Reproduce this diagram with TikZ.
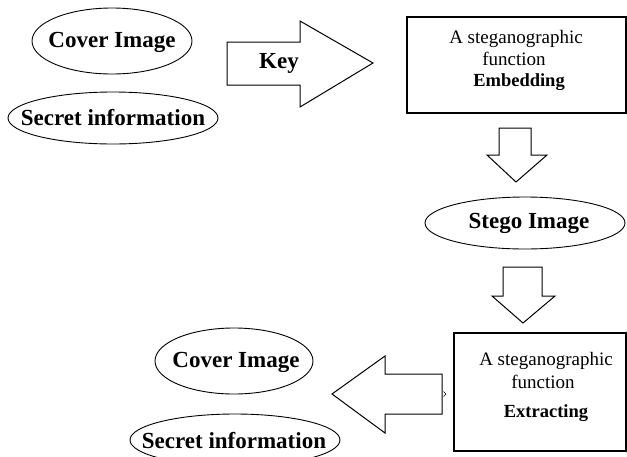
\documentclass[tikz,border=0pt]{standalone}
\usepackage{fontspec}
\setmainfont{Liberation Serif}
\begin{document}
\begin{tikzpicture}[x=1pt,y=-1pt,
  label/.style={inner sep=0pt, font=\fontsize{23}{23}\selectfont\bfseries},
  ring/.style={draw, line width=0.9pt},
  stepbox/.style={draw, line width=1.2pt, rectangle, inner sep=0pt},
  fatarrow/.style={draw, line width=1pt, line join=miter, fill=white},
  plain/.style={inner sep=0pt, anchor=base, font=\fontsize{19}{19}\selectfont},
  strong/.style={inner sep=0pt, anchor=base, font=\fontsize{18.5}{18.5}\selectfont\bfseries}]
\useasboundingbox (0,0) rectangle (627,456);

% inputs
\node[label] (cover1) at (112,42) {Cover Image};
\draw[ring] (112,41) ellipse [x radius=80pt, y radius=33pt];
\node[label] (secret1) at (113,118) {Secret information};
\draw[ring] (113,118) ellipse [x radius=105pt, y radius=26pt];

% key arrow
\draw[fatarrow] (227,42) -- (300,42) -- (300,21) -- (373,63) -- (300,107)
  -- (300,85) -- (227,85) -- cycle;
\node[label] (key) at (279,63) {Key};

% embedding stage
\node[stepbox, minimum width=219pt, minimum height=96pt] (embed) at (516.5,65) {};
\node[plain] (e1) at (516,43) {A steganographic};
\node[plain] (e2) at (514,65) {function};
\node[strong] (e3) at (519,86) {Embedding};

% down arrow to stego image
\draw[fatarrow] (499,128) -- (531,128) -- (531,155) -- (547,155) -- (516,182)
  -- (487,155) -- (499,155) -- cycle;

\node[label] (stego) at (529,223) {Stego Image};
\draw[ring] (525,223) ellipse [x radius=100pt, y radius=26pt];

% down arrow to extraction
\draw[fatarrow] (503,267) -- (542,267) -- (542,296) -- (555,296) -- (523,323)
  -- (492,296) -- (503,296) -- cycle;

% extracting stage
\node[stepbox, minimum width=172pt, minimum height=118pt] (extract) at (540,392) {};
\node[plain] (x1) at (546,365) {A steganographic};
\node[plain] (x2) at (543,388) {function};
\node[strong] (x3) at (546,417) {Extracting};

% left arrow back to outputs
\draw[fatarrow] (442,374) -- (385,374) -- (385,356) -- (332,394) -- (385,433)
  -- (385,414) -- (442,414) -- cycle;
\draw[line width=0.5pt] (443.5,391.5) -- (446,394) -- (443.5,396.5);

% outputs
\node[label] (cover2) at (236,362) {Cover Image};
\draw[ring] (234,361) ellipse [x radius=79pt, y radius=33pt];
\node[label] (secret2) at (234,441) {Secret information};
\draw[ring] (235,440) ellipse [x radius=105pt, y radius=26pt];
\end{tikzpicture}
\end{document}
